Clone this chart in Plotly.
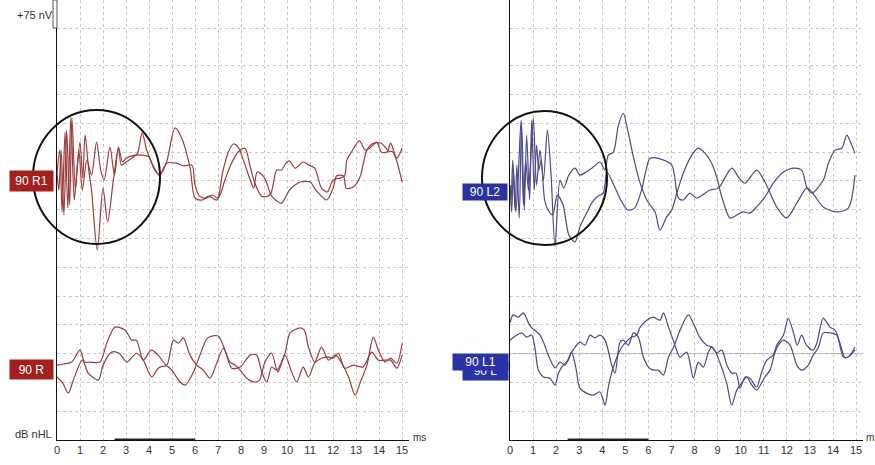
import plotly.graph_objects as go

# ---------------- data (time in ms, amplitude in nV relative to each trace baseline) -------------
TICK_MS = list(range(16))
TICK_LABELS = [str(v) for v in TICK_MS]
GRID_NV = [75, 150, 225, 300, 375, 450, 525, 600, 675, 750, 825, 900, 975, 1073]

# Left ear, 90 dB nHL, trace R1 (two replications)
R1_A_T = [0.0,0.12,0.22,0.35,0.47,0.6,0.75,0.85,1.0,1.12,1.22,1.38,1.5,1.75,2.0,2.2,2.45,2.67,2.8,3.0,3.25,3.5,3.7,3.9,4.1,4.45,4.75,5.13,5.4,5.78,6.0,6.3,6.6,6.95,7.2,7.45,7.67,7.9,8.1,8.4,8.55,8.7,8.95,9.1,9.3,9.5,9.77,10.1,10.3,10.57,11.0,11.25,11.72,12.0,12.16,12.45,12.57,12.88,13.17,13.47,13.75,14.1,14.4,14.6,15.0]
R1_A_V = [15,75,-86,122,-76,159,-55,10,96,2,114,23,-29,-185,-24,-112,-3,80,36,44,54,67,120,75,44,10,41,133,109,31,-50,-55,-45,-55,18,70,91,80,49,-3,-24,18,8,-8,-42,-55,-63,-29,-18,-8,-8,-29,-55,-24,8,8,-24,-21,5,75,93,93,73,70,-8]
R1_B_T = [0.0,0.08,0.18,0.3,0.42,0.55,0.65,0.8,0.95,1.1,1.3,1.5,1.72,1.9,2.05,2.3,2.5,2.67,2.85,3.0,3.4,3.7,4.0,4.2,4.45,4.77,5.2,5.5,5.86,6.0,6.2,6.5,6.75,7.0,7.3,7.55,7.87,8.17,8.4,8.6,8.9,9.26,9.55,9.75,9.95,10.1,10.35,10.7,10.95,11.2,11.5,11.75,12.0,12.3,12.5,12.6,12.8,13.14,13.4,13.65,13.9,14.1,14.35,14.5,14.77,15.0]
R1_B_V = [15,-29,75,-94,127,-68,159,-29,75,-29,49,10,96,23,-3,83,10,83,44,54,62,62,57,28,10,41,41,34,36,-16,-45,-50,-42,-50,-3,36,70,80,31,-11,-45,-42,23,23,41,47,28,44,36,28,-24,-34,-3,2,8,49,70,99,75,83,96,70,70,93,54,80]

# trace R
R_A_T = [0,0.25,0.49,0.71,1.1,1.36,1.8,2.0,2.38,2.7,3.03,3.46,3.75,4.12,4.4,4.75,4.99,5.35,5.57,5.93,6.2,6.55,7.0,7.3,7.6,7.96,8.4,8.68,8.9,9.12,9.33,9.55,9.91,10.13,10.57,10.75,10.93,11.2,11.5,11.8,12.1,12.38,12.67,12.96,13.17,13.47,13.75,13.97,14.26,14.5,14.77,15.0]
R_A_V = [-26,-42,-68,-34,18,-16,-34,5,39,36,13,36,18,-26,-3,3,-8,-39,-47,-13,29,76,81,44,-3,0,31,31,-13,-39,0,-8,36,89,102,96,52,13,52,18,31,10,-26,-73,-42,5,78,44,13,23,10,62]
R_B_T = [0,0.3,0.64,1.0,1.2,1.43,1.87,2.16,2.52,2.96,3.25,3.45,3.75,4.1,4.4,4.77,5.06,5.28,5.49,5.78,6.07,6.36,6.65,6.94,7.23,7.52,7.75,8.03,8.25,8.6,8.8,9.04,9.33,9.6,9.91,10.2,10.42,10.7,10.93,11.2,11.5,11.8,12.0,12.23,12.5,12.88,13.3,13.68,13.97,14.26,14.5,14.77,15.0]
R_B_V = [5,8,13,44,13,13,13,62,104,96,70,70,18,44,31,5,70,62,76,31,5,-8,-29,10,49,13,5,-13,-29,-39,-34,13,36,-13,31,-13,-39,0,-26,10,23,26,23,36,-3,5,0,39,18,18,18,-3,31]

# trace L2
L2_A_T = [0,0.07,0.15,0.25,0.35,0.48,0.58,0.68,0.8,1.01,1.15,1.3,1.45,1.62,1.78,1.95,2.17,2.33,2.55,2.82,3.03,3.3,3.61,3.9,4.12,4.26,4.48,4.7,4.91,5.1,5.35,5.64,5.93,6.07,6.29,6.5,6.79,7.01,7.23,7.51,7.88,8.16,8.45,8.74,8.96,9.18,9.54,9.83,10.11,10.4,10.69,11.05,11.41,11.85,12.28,12.64,12.86,13.08,13.58,13.8,14.09,14.38,14.6,14.81,14.95]
L2_A_V = [-1,-71,38,-71,12,168,-53,64,-14,173,-1,90,12,142,25,-160,12,-9,25,43,25,33,46,59,38,77,85,155,186,142,72,4,-40,-53,-71,-118,-84,-66,-22,30,77,95,82,56,20,-32,-87,-79,-71,-74,-58,-32,4,33,43,38,-6,-22,12,56,90,95,129,103,82]
L2_B_T = [0,0.05,0.12,0.22,0.3,0.4,0.5,0.62,0.72,0.85,0.94,1.05,1.15,1.25,1.35,1.5,1.65,1.85,2.05,2.3,2.55,2.82,3.03,3.32,3.54,3.76,4.04,4.2,4.5,4.8,5.1,5.4,5.7,5.9,6.07,6.5,7.01,7.3,7.51,7.8,8.09,8.67,9.03,9.61,9.9,10.19,10.69,11.05,11.56,11.99,12.43,12.86,13.08,13.58,14.16,14.66,14.95]
L2_B_V = [-1,-40,64,-66,51,-87,163,-66,129,-40,168,-14,103,38,64,-40,-66,-79,-27,-53,-131,-149,-110,-74,-48,-32,-22,33,-1,-40,-66,-61,-14,38,69,67,51,-35,-40,-22,-35,-14,-9,43,20,4,38,7,-58,-87,-48,-9,-19,-58,-71,-61,25]

# trace L1
L1_A_T = [0,0.14,0.35,0.58,0.8,0.94,1.08,1.3,1.45,1.66,1.95,2.17,2.38,2.6,2.82,3.03,3.25,3.47,3.68,3.9,4.12,4.41,4.55,4.77,4.91,5.13,5.35,5.56,5.78,6.0,6.21,6.43,6.65,6.87,7.08,7.37,7.73,8.02,8.24,8.53,8.81,9.1,9.39,9.61,9.83,10.04,10.26,10.48,10.69,11.05,11.27,11.48,11.63,11.85,12.14,12.43,12.64,12.93,13.14,13.36,13.58,13.87,14.16,14.45,14.66,14.95]
L1_A_V = [80,101,95,106,80,67,61,48,30,-4,-37,-22,-30,-4,17,30,22,48,41,48,35,-30,-51,30,35,22,54,43,-9,-35,-43,-43,-56,-9,15,61,101,69,41,22,15,-24,-77,-134,-95,-77,-61,-82,-95,-61,-43,2,22,35,22,-30,-43,-30,-4,15,54,54,48,-9,-9,9]
L1_B_T = [0,0.17,0.51,0.72,0.94,1.08,1.23,1.45,1.73,1.95,2.1,2.31,2.53,2.67,2.85,3.03,3.32,3.61,3.9,4.12,4.26,4.48,4.77,4.99,5.28,5.5,5.64,5.93,6.21,6.5,6.65,6.87,7.08,7.37,7.66,7.95,8.16,8.38,8.6,8.74,8.95,9.18,9.4,9.61,9.8,9.97,10.19,10.4,10.69,10.91,11.13,11.41,11.56,11.85,12.06,12.28,12.45,12.64,12.85,13.14,13.3,13.58,13.87,14.09,14.3,14.52,14.74,14.95]
L1_B_V = [35,43,54,43,48,15,-43,-61,-64,-82,-51,-30,-17,4,-35,-90,-103,-108,-100,-134,-87,-35,9,28,43,48,69,87,95,87,106,69,35,-9,4,-64,-22,-35,4,17,2,9,-30,-51,-51,-90,-61,-64,-87,-48,-17,-4,22,48,92,56,22,48,22,9,28,92,69,61,28,-11,-4,17]

# baseline of each trace on the display axis (nV)
BASE_R1, BASE_R, BASE_L2, BASE_L1 = 680, 190, 665, 225

# ---------------- styling -------------
W, H = 875, 465
RED, BLUE = "#9c3c3c", "#4a4a8e"
RED_BOX, BLUE_BOX = "#a3201f", "#2a33a6"
FONT = "Liberation Sans Narrow, Liberation Sans, Arial, sans-serif"

def px(x):
    return x / W

def py(y):
    return 1 - y / H

fig = go.Figure()

def add(ts, vs, base, color, xa, ya):
    fig.add_trace(go.Scatter(
        x=ts, y=[base + v for v in vs], mode="lines",
        line=dict(color=color, width=1.2, shape="spline", smoothing=0.8),
        xaxis=xa, yaxis=ya, hoverinfo="skip", showlegend=False))

add(R1_A_T, R1_A_V, BASE_R1, RED, "x", "y")
add(R1_B_T, R1_B_V, BASE_R1, RED, "x", "y")
add(R_A_T, R_A_V, BASE_R, RED, "x", "y")
add(R_B_T, R_B_V, BASE_R, RED, "x", "y")
add(L2_A_T, L2_A_V, BASE_L2, BLUE, "x2", "y2")
add(L2_B_T, L2_B_V, BASE_L2, BLUE, "x2", "y2")
add(L1_A_T, L1_A_V, BASE_L1, BLUE, "x2", "y2")
add(L1_B_T, L1_B_V, BASE_L1, BLUE, "x2", "y2")

grid = dict(showgrid=True, gridcolor="#c8c8c8", gridwidth=1, griddash="3px,3px",
            zeroline=False, showline=True, linecolor="#111", linewidth=1, ticks="",
            automargin=False)
xcommon = dict(range=[0, 15.3], tickvals=TICK_MS, ticktext=TICK_LABELS,
               tickfont=dict(family=FONT, size=11, color="#333"), **grid)
ycommon = dict(range=[0, 1146], tickvals=GRID_NV, showticklabels=False,
               domain=[25 / H, 1], **grid)

fig.update_layout(
    width=W, height=H, autosize=False,
    margin=dict(l=0, r=0, t=0, b=0, pad=0),
    paper_bgcolor="white", plot_bgcolor="white",
    xaxis=dict(domain=[px(57), px(409)], anchor="y", **xcommon),
    yaxis=dict(anchor="x", **ycommon),
    xaxis2=dict(domain=[px(510), px(863)], anchor="y2", **xcommon),
    yaxis2=dict(anchor="x2", **ycommon),
)

shapes = []
# L1 baseline
shapes.append(dict(type="line", xref="x2", yref="y2", x0=0, x1=15.3, y0=BASE_L1, y1=BASE_L1,
                   line=dict(color="#a8a8a8", width=1), layer="below"))
# analysis-window bars on the time axis
for xr, yr in (("x", "y"), ("x2", "y2")):
    shapes.append(dict(type="line", xref=xr, yref=yr, x0=2.5, x1=6, y0=0, y1=0,
                       line=dict(color="#222", width=3)))
# scale bar
shapes.append(dict(type="rect", xref="paper", yref="paper", x0=px(53), x1=px(57),
                   y0=py(28), y1=py(0), line=dict(color="#555", width=1), fillcolor="white"))
# circles
shapes.append(dict(type="circle", xref="paper", yref="paper", x0=px(33), x1=px(160),
                   y0=py(244), y1=py(110), line=dict(color="#111", width=2)))
shapes.append(dict(type="circle", xref="paper", yref="paper", x0=px(482), x1=px(607),
                   y0=py(245), y1=py(111), line=dict(color="#111", width=2)))
fig.update_layout(shapes=shapes)

ann = []
def text(x, y, s, anchor="center", size=10, color="#333"):
    ann.append(dict(xref="paper", yref="paper", x=px(x), y=py(y), text=s, showarrow=False,
                    xanchor=anchor, yanchor="middle", font=dict(family=FONT, size=size, color=color)))

text(35, 15, "+75 nV", size=11)
text(33, 434, "dB nHL", size=11)
text(411, 437, "ms", anchor="left")
text(864, 437, "ms", anchor="left")

def box(cx, cy, w, h, s, bg):
    ann.append(dict(xref="paper", yref="paper", x=px(cx), y=py(cy), text=s, showarrow=False,
                    xanchor="center", yanchor="middle", width=w, height=h, bgcolor=bg,
                    borderpad=0, font=dict(family=FONT, size=12, color="white")))

box(31.5, 181, 43, 20, "90 R1", RED_BOX)
box(31.5, 369.5, 43, 19, "90 R", RED_BOX)
box(485, 192, 44, 16, "90 L2", BLUE_BOX)
box(485.5, 371, 45, 18, "90 L", BLUE_BOX)
box(480.5, 362, 55, 16, "90 L1", BLUE_BOX)
fig.update_layout(annotations=ann)

fig.write_html(
    "out.html",
    config={"displayModeBar": False, "staticPlot": True},
    post_script="document.body.style.margin='0';document.body.style.padding='0';"
                "document.documentElement.style.overflow='hidden';",
)
